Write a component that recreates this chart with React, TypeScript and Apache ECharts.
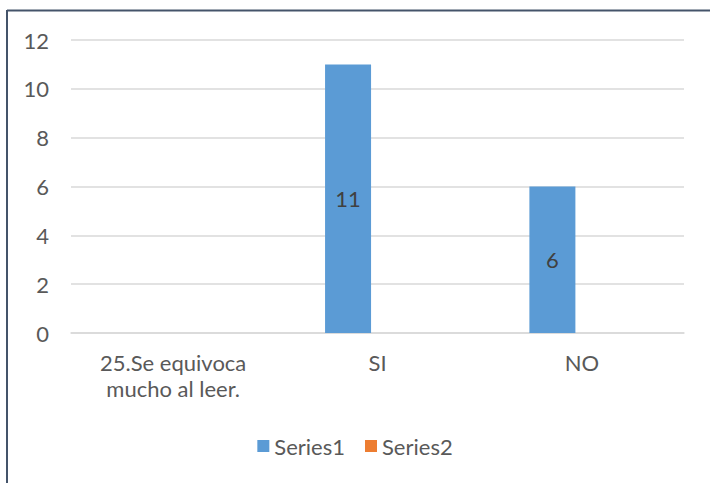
import React, { useEffect, useRef } from "react";
import * as echarts from "echarts";

const categories = ["25.Se equivoca\nmucho al leer.", "SI", "NO"];
const series1 = [null, 11, 6];
const series2 = [null, null, null];
const yTicks = { min: 0, max: 12, interval: 2 };

export default function App() {
  const ref = useRef<HTMLDivElement>(null);
  useEffect(() => {
    document.body.style.margin = "0";
    const chart = echarts.init(ref.current!, null, { renderer: "svg" });
    const font = "Lato, Carlito, sans-serif";
    chart.setOption({
      animation: false,
      backgroundColor: "#ffffff",
      textStyle: { fontFamily: font },
      grid: { left: 71, right: 26, top: 40, bottom: 150, containLabel: false },
      legend: {
        top: 430,
        left: "center",
        itemWidth: 12,
        itemHeight: 12,
        itemGap: 20,
        itemTextGap: 5,
        icon: "rect",
        textStyle: { color: "#595959", fontSize: 22, fontFamily: font },
        data: ["Series1", "Series2"],
      },
      xAxis: {
        type: "category",
        data: categories,
        axisLine: { lineStyle: { color: "#d9d9d9", width: 1.5 } },
        axisTick: { show: false },
        axisLabel: { color: "#595959", fontSize: 22, lineHeight: 26, margin: 16, interval: 0, fontFamily: font },
      },
      yAxis: {
        type: "value",
        min: yTicks.min,
        max: yTicks.max,
        interval: yTicks.interval,
        axisLine: { show: false },
        axisTick: { show: false },
        axisLabel: { color: "#595959", fontSize: 22, margin: 22, fontFamily: font },
        splitLine: { lineStyle: { color: "#d9d9d9", width: 1.5 } },
      },
      series: [
        {
          name: "Series1",
          type: "bar",
          data: series1,
          barWidth: 46,
          barGap: "28%",
          itemStyle: { color: "#5B9BD5" },
          label: { show: true, position: "inside", color: "#404040", fontSize: 22, fontFamily: font },
        },
        {
          name: "Series2",
          type: "bar",
          data: series2,
          barWidth: 46,
          itemStyle: { color: "#ED7D31" },
          label: { show: true, position: "inside", color: "#404040", fontSize: 22, fontFamily: font },
        },
      ],
      graphic: [
        { type: "line", shape: { x1: 7, y1: 10.5, x2: 710, y2: 10.5 }, style: { stroke: "#44546A", lineWidth: 2 } },
        { type: "line", shape: { x1: 7, y1: 10, x2: 7, y2: 483 }, style: { stroke: "#44546A", lineWidth: 2 } },
      ],
    });
    return () => chart.dispose();
  }, []);
  return <div ref={ref} style={{ width: 710, height: 483 }} />;
}
